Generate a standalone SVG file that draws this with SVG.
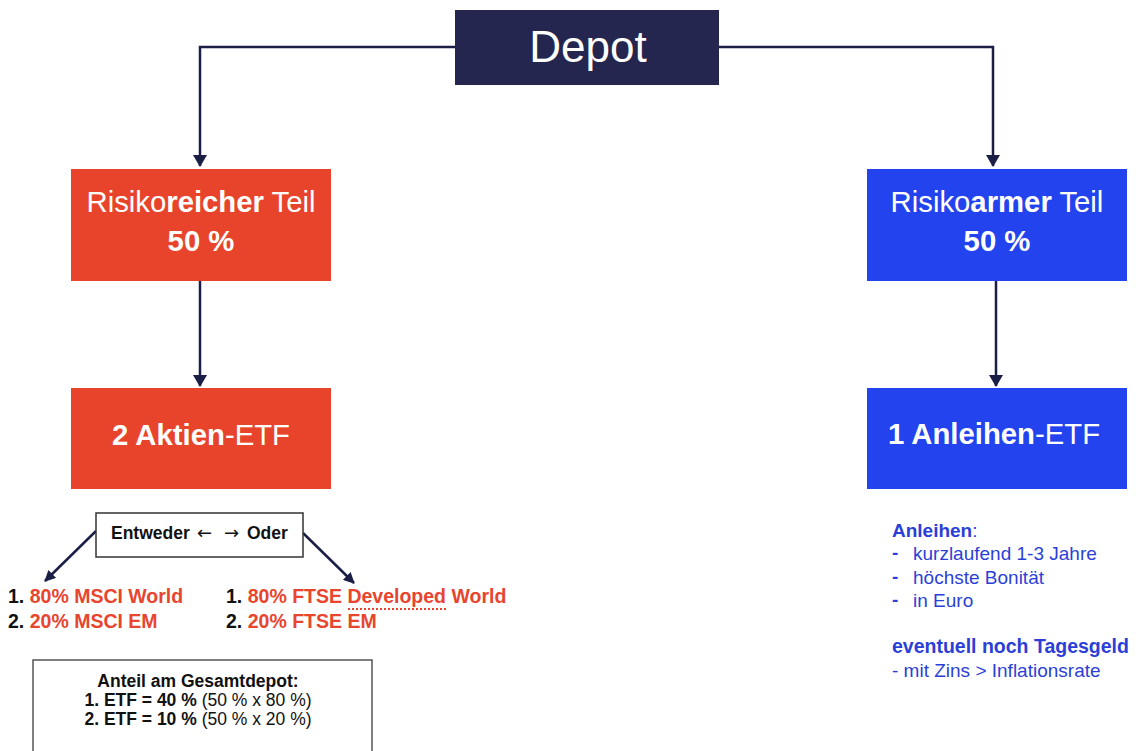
<svg xmlns="http://www.w3.org/2000/svg" width="1136" height="751" viewBox="0 0 1136 751">
<defs>
<marker id="ah" viewBox="0 0 12 14" refX="11" refY="7" markerWidth="13" markerHeight="14" markerUnits="userSpaceOnUse" orient="auto">
<path d="M0,0 L12,7 L0,14 Z" fill="#1c1f45"/>
</marker>
<marker id="ahs" viewBox="0 0 12 12" refX="11" refY="6" markerWidth="11" markerHeight="11" markerUnits="userSpaceOnUse" orient="auto">
<path d="M0,0 L12,6 L0,12 Z" fill="#1c1f45"/>
</marker>
<style>
text{font-family:"Liberation Sans",Arial,sans-serif}
.w{fill:#fff}
.b{font-weight:bold}
.red{fill:#e8442b}
.blue{fill:#2243ee}
.conn{stroke:#1c1f45;stroke-width:2.5;fill:none}
.blk{fill:#111}
.rt{fill:#e8452f}
.bt{fill:#2b3fd8}
.arr{font-family:"DejaVu Sans",sans-serif;font-size:18px;fill:#111}
</style>
</defs>
<rect width="1136" height="751" fill="#fff"/>
<g id="connectors">
<path class="conn" d="M455,47 H200 V166" marker-end="url(#ah)"/>
<path class="conn" d="M719,47 H993 V166" marker-end="url(#ah)"/>
<path class="conn" d="M200,281 V386" marker-end="url(#ah)"/>
<path class="conn" d="M996,281 V386" marker-end="url(#ah)"/>
<path class="conn" d="M96,531 L45,581" stroke-width="1.8" marker-end="url(#ahs)"/>
<path class="conn" d="M303,533 L354,583" stroke-width="1.8" marker-end="url(#ahs)"/>
</g>
<g id="depot">
<rect x="455" y="10" width="264" height="75" fill="#25264f"/>
<text x="588" y="62" font-size="44" text-anchor="middle" class="w">Depot</text>
</g>
<g id="risikoreich">
<rect x="71" y="169" width="260" height="112" class="red"/>
<text x="201" y="212" font-size="29.3" text-anchor="middle" class="w">Risiko<tspan class="b">reicher</tspan> Teil</text>
<text x="201" y="251" font-size="29.3" text-anchor="middle" class="w b">50 %</text>
</g>
<g id="risikoarm">
<rect x="867" y="169" width="260" height="112" class="blue"/>
<text x="997" y="212" font-size="29.3" text-anchor="middle" class="w">Risiko<tspan class="b">armer</tspan> Teil</text>
<text x="997" y="251" font-size="29.3" text-anchor="middle" class="w b">50 %</text>
</g>
<g id="aktien">
<rect x="71" y="388" width="260" height="101" class="red"/>
<text x="201" y="445" font-size="29.3" text-anchor="middle" class="w"><tspan class="b">2 Aktien</tspan>-ETF</text>
</g>
<g id="anleihen">
<rect x="867" y="388" width="260" height="101" class="blue"/>
<text x="994" y="444" font-size="29.3" text-anchor="middle" class="w"><tspan class="b">1 Anleihen</tspan>-ETF</text>
</g>
<g id="entweder">
<rect x="96" y="513" width="207" height="44" fill="#fff" stroke="#333" stroke-width="1.5"/>
<text x="111" y="539" font-size="17.5" class="b blk">Entweder</text>
<text x="197" y="539" class="arr">←</text>
<text x="224" y="539" class="arr">→</text>
<text x="247" y="539" font-size="17.5" class="b blk">Oder</text>
</g>
<g id="msci">
<text x="8" y="603" font-size="19.5" class="b"><tspan class="blk">1. </tspan><tspan class="rt">80% MSCI World</tspan></text>
<text x="8" y="628" font-size="19.5" class="b"><tspan class="blk">2. </tspan><tspan class="rt">20% MSCI EM</tspan></text>
</g>
<g id="ftse">
<text x="226" y="603" font-size="19.5" class="b"><tspan class="blk">1. </tspan><tspan class="rt">80% FTSE Developed World</tspan></text>
<text x="226" y="628" font-size="19.5" class="b"><tspan class="blk">2. </tspan><tspan class="rt">20% FTSE EM</tspan></text>
<line x1="348" y1="609" x2="446" y2="609" stroke="#e8452f" stroke-width="2" stroke-dasharray="2,2"/>
</g>
<g id="anteil">
<rect x="33" y="660" width="339" height="100" fill="#fff" stroke="#555" stroke-width="1.5"/>
<text x="198" y="687" font-size="17.5" text-anchor="middle" class="b blk">Anteil am Gesamtdepot:</text>
<text x="198" y="706" font-size="17.5" text-anchor="middle" class="blk"><tspan class="b">1. ETF = 40 %</tspan> (50 % x 80 %)</text>
<text x="198" y="725" font-size="17.5" text-anchor="middle" class="blk"><tspan class="b">2. ETF = 10 %</tspan> (50 % x 20 %)</text>
</g>
<g id="anleihen-info" font-size="19" class="bt">
<text x="892" y="537" class="bt"><tspan class="b">Anleihen</tspan>:</text>
<text x="892" y="559" class="bt b">-</text>
<text x="913" y="560" class="bt">kurzlaufend 1-3 Jahre</text>
<text x="892" y="583" class="bt b">-</text>
<text x="913" y="584" class="bt">höchste Bonität</text>
<text x="892" y="606" class="bt b">-</text>
<text x="913" y="607" class="bt">in Euro</text>
<text x="892" y="653" class="bt b" font-size="19.5">eventuell noch Tagesgeld</text>
<text x="892" y="677" class="bt">- mit Zins &gt; Inflationsrate</text>
</g>
</svg>
